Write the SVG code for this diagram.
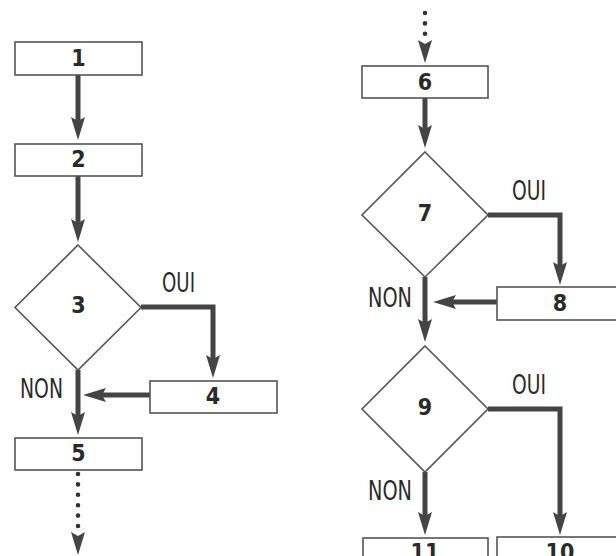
<svg xmlns="http://www.w3.org/2000/svg" width="616" height="556" viewBox="0 0 616 556">
<style>
.box{fill:#fff;stroke:#555;stroke-width:1.6}
.dia{fill:#fff;stroke:#555;stroke-width:1.6}
.num{font-family:"Liberation Sans Narrow","DejaVu Sans Condensed","Liberation Sans",sans-serif;font-weight:bold;font-size:23px;fill:#2a2a2a;text-anchor:middle}
.lbl{font-family:"Liberation Sans Narrow","DejaVu Sans Condensed","Liberation Sans",sans-serif;font-size:26px;fill:#2a2a2a;text-anchor:middle}
.con{fill:none;stroke:#444;stroke-width:5;marker-end:url(#ah)}
.dot{fill:none;stroke:#333;stroke-width:4.6;stroke-linecap:round;stroke-dasharray:0 10.4}
.hid{fill:none;stroke:none;marker-end:url(#ah)}
</style>
<defs>
<marker id="ah" viewBox="0 0 23 14" refX="11" refY="7" markerWidth="23" markerHeight="14" markerUnits="userSpaceOnUse" orient="auto">
<path d="M0,0 L23,7 L0,14 L4,7 Z" fill="#444"/>
</marker>
</defs>
<rect width="616" height="556" fill="#fff"/>
<g id="connectors">
<path class="con" d="M78,75 V128"/>
<path class="con" d="M78,176 V230"/>
<path class="con" d="M141,307 H213 V366"/>
<path class="con" d="M150,395 H95"/>
<path class="con" d="M78,370 V423"/>
<path class="dot" d="M78,474 V527"/>
<path class="hid" d="M78,531 V543"/>
<path class="dot" d="M425,13 V34"/>
<path class="hid" d="M425,40 V51"/>
<path class="con" d="M425,98 V136"/>
<path class="con" d="M488,215 H560 V273"/>
<path class="con" d="M497,302 H445"/>
<path class="con" d="M425,277 V330"/>
<path class="con" d="M488,409 H560 V523"/>
<path class="con" d="M425,472 V523"/>
</g>
<g id="node1"><rect class="box" x="15" y="42" width="127" height="33"/><text class="num" x="78.5" y="66">1</text></g>
<g id="node2"><rect class="box" x="15" y="144" width="127" height="32"/><text class="num" x="78.5" y="167">2</text></g>
<g id="node3"><polygon class="dia" points="78,245 141,307.5 78,370 15,307.5"/><text class="num" x="78.5" y="313">3</text></g>
<g id="node4"><rect class="box" x="150" y="381" width="127" height="32"/><text class="num" x="213" y="404">4</text></g>
<g id="node5"><rect class="box" x="15" y="438" width="127" height="32"/><text class="num" x="78.5" y="461">5</text></g>
<g id="node6"><rect class="box" x="362" y="66" width="126" height="32"/><text class="num" x="425" y="90">6</text></g>
<g id="node7"><polygon class="dia" points="425,152 488,215 425,277 362,215"/><text class="num" x="425" y="221">7</text></g>
<g id="node8"><rect class="box" x="497" y="287" width="130" height="33"/><text class="num" x="560" y="311">8</text></g>
<g id="node9"><polygon class="dia" points="425,346 488,409 425,472 362,409"/><text class="num" x="425" y="415">9</text></g>
<g id="node10"><rect class="box" x="497" y="537" width="130" height="30"/><text class="num" x="560" y="560">10</text></g>
<g id="node11"><rect class="box" x="363" y="538" width="125" height="30"/><text class="num" x="425" y="560">11</text></g>
<g id="labels">
<text class="lbl" x="178.5" y="292" textLength="33" lengthAdjust="spacingAndGlyphs">OUI</text>
<text class="lbl" x="41.5" y="398" textLength="43" lengthAdjust="spacingAndGlyphs">NON</text>
<text class="lbl" x="529" y="200" textLength="34" lengthAdjust="spacingAndGlyphs">OUI</text>
<text class="lbl" x="390" y="307" textLength="44" lengthAdjust="spacingAndGlyphs">NON</text>
<text class="lbl" x="529" y="394" textLength="34" lengthAdjust="spacingAndGlyphs">OUI</text>
<text class="lbl" x="390" y="500" textLength="44" lengthAdjust="spacingAndGlyphs">NON</text>
</g>
</svg>
